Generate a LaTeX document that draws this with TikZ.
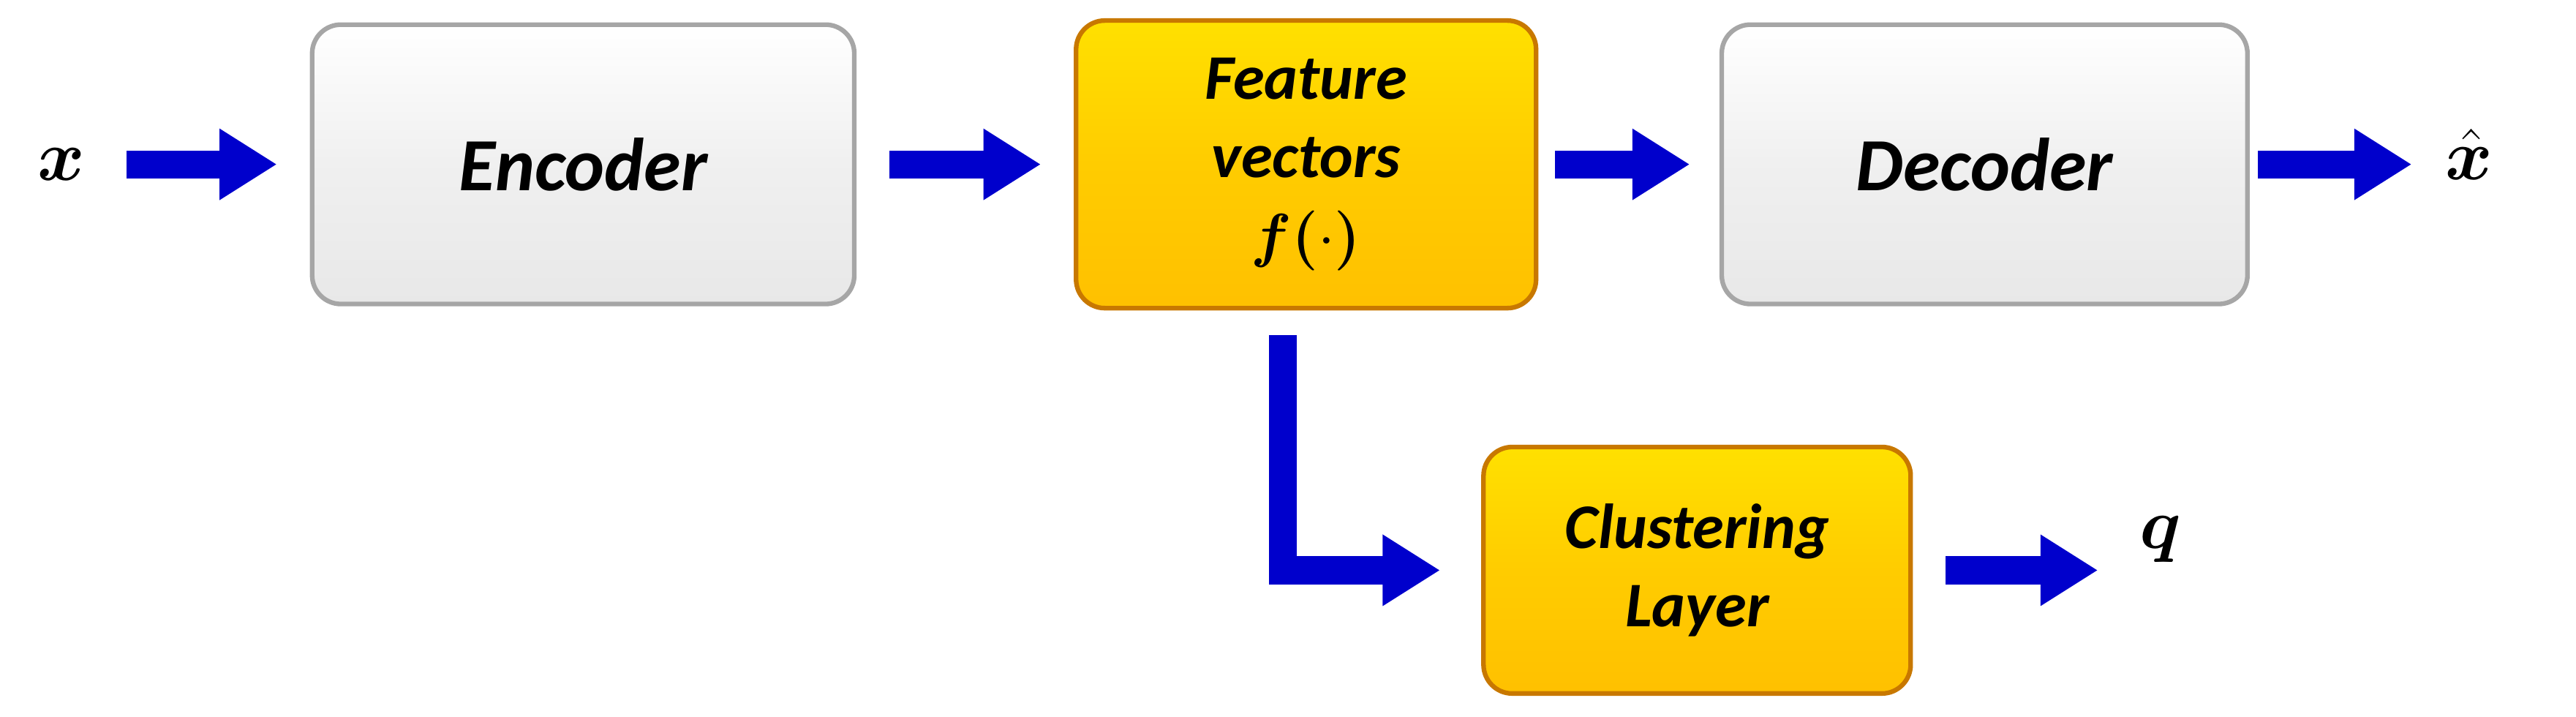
\documentclass[tikz,border=0pt]{standalone}
\usepackage{amsmath,bm}
\usepackage{fontspec}
\setmainfont{Carlito}
\usetikzlibrary{arrows.meta,shadows}
\definecolor{arrblue}{HTML}{0000CC}
\definecolor{gold}{HTML}{FFCC00}
\definecolor{goldedge}{HTML}{C87800}
\begin{document}
\begin{tikzpicture}[x=0.02cm,y=-0.02cm,
  box/.style={rounded corners=0.35cm,line width=1.6pt,inner sep=0pt,align=center,
     font=\fontsize{26}{30}\selectfont\bfseries\itshape},
  grey/.style={box,draw=gray!70,top color=white,bottom color=gray!18,middle color=gray!12},
  yellow/.style={box,draw=goldedge,top color=gold!60!yellow,bottom color=gold!85!orange,middle color=gold},
  fat/.style={arrblue,line width=0.34cm,line join=miter,-{Triangle[length=0.7cm,width=0.82cm]}},
  lbl/.style={inner sep=0pt,font=\fontsize{40}{40}\selectfont}]
\useasboundingbox (0,0) rectangle (1568,436);
\node[grey,minimum width=330*0.02cm,minimum height=170*0.02cm] (enc) at (355,100) {Encoder};
\node[yellow,minimum width=280*0.02cm,minimum height=175*0.02cm,font=\fontsize{22}{27}\selectfont\bfseries\itshape] (feat) at (795,100) {Feature\\vectors\\$\bm{f}\bm{(}\cdot\bm{)}$};
\node[grey,minimum width=320*0.02cm,minimum height=170*0.02cm] (dec) at (1208,100) {Decoder};
\node[yellow,minimum width=260*0.02cm,minimum height=150*0.02cm,font=\fontsize{22}{27}\selectfont\bfseries\itshape] (clu) at (1033,347) {Clustering\\Layer};
\node[lbl,anchor=east] (x) at (52,100) {$\bm{x}$};
\node[lbl,anchor=west] (xh) at (1488,94) {$\bm{\hat{x}}$};
\node[lbl,anchor=west] (q) at (1302,328) {$\bm{q}$};
\draw[fat,shorten <=0.5cm,shorten >=0.4cm] (x.east) -- (x.east -| enc.west);
\draw[fat,shorten <=0.4cm,shorten >=0.4cm] (enc) -- (feat);
\draw[fat,shorten <=0.2cm,shorten >=0.36cm] (feat) -- (dec);
\draw[fat,shorten <=0.1cm,shorten >=0.4cm] (dec.east) -- (dec.east -| xh.west);
\draw[fat,shorten <=0.4cm,shorten >=0.5cm] (clu.east) -- (clu.east -| q.west);
\draw[fat,shorten <=0.3cm,shorten >=0.5cm] ([xshift=-0.28cm]feat.south) |- (clu.west);
\end{tikzpicture}
\end{document}
